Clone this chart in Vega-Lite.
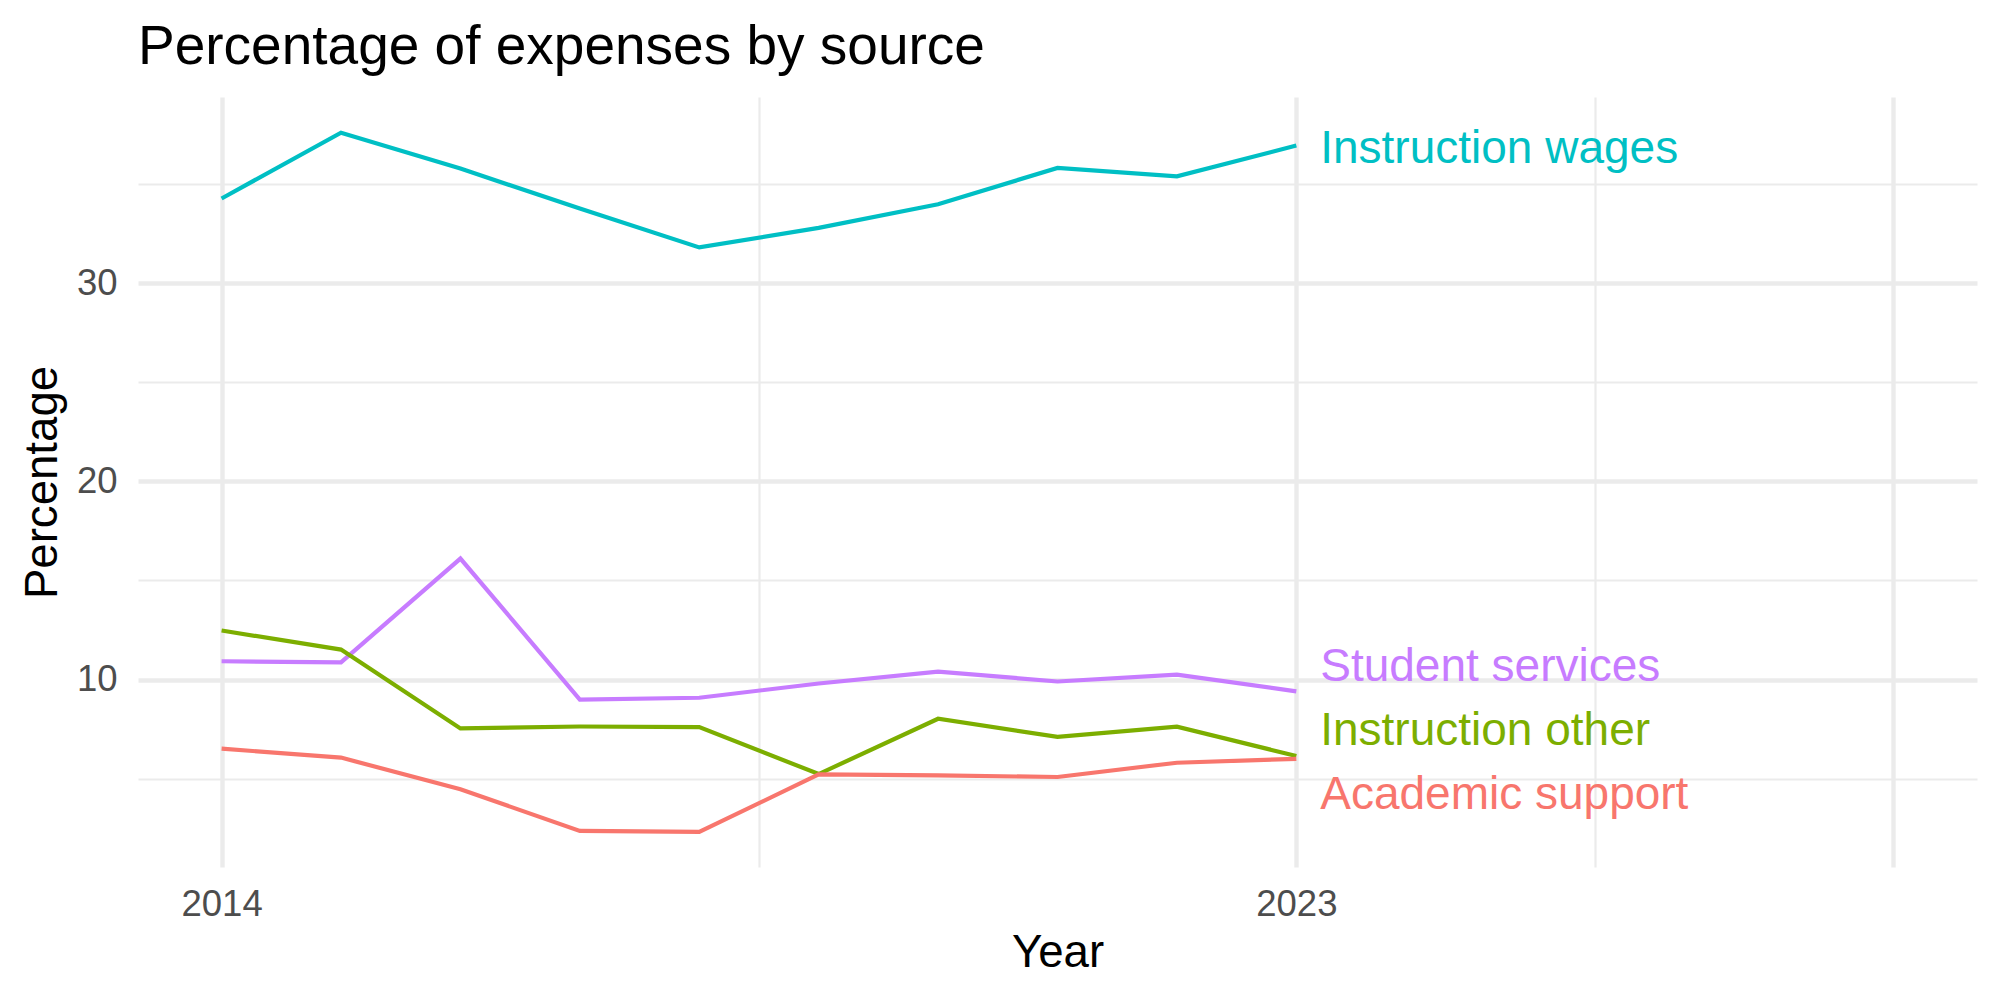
{
  "$schema": "https://vega.github.io/schema/vega-lite/v6.json",
  "width": 1839,
  "height": 770,
  "autosize": {"type": "none"},
  "padding": {"left": 138, "top": 97, "right": 23, "bottom": 133},
  "background": "white",
  "config": {"font": "Liberation Sans", "view": {"stroke": null}},
  "title": {
    "text": "Percentage of expenses by source",
    "anchor": "start",
    "frame": "group",
    "fontSize": 55,
    "fontWeight": "normal",
    "color": "#000000",
    "baseline": "alphabetic",
    "offset": 34,
    "dy": 56,
    "font": "Liberation Sans"
  },
  "datasets": {
    "series": [
      {"year": 2014, "source": "Instruction wages", "percentage": 34.27},
      {"year": 2015, "source": "Instruction wages", "percentage": 37.59},
      {"year": 2016, "source": "Instruction wages", "percentage": 35.78},
      {"year": 2017, "source": "Instruction wages", "percentage": 33.76},
      {"year": 2018, "source": "Instruction wages", "percentage": 31.8},
      {"year": 2019, "source": "Instruction wages", "percentage": 32.79},
      {"year": 2020, "source": "Instruction wages", "percentage": 33.98},
      {"year": 2021, "source": "Instruction wages", "percentage": 35.81},
      {"year": 2022, "source": "Instruction wages", "percentage": 35.39},
      {"year": 2023, "source": "Instruction wages", "percentage": 36.94},
      {"year": 2014, "source": "Student services", "percentage": 10.92},
      {"year": 2015, "source": "Student services", "percentage": 10.86},
      {"year": 2016, "source": "Student services", "percentage": 16.1},
      {"year": 2017, "source": "Student services", "percentage": 8.99},
      {"year": 2018, "source": "Student services", "percentage": 9.08},
      {"year": 2019, "source": "Student services", "percentage": 9.8},
      {"year": 2020, "source": "Student services", "percentage": 10.4},
      {"year": 2021, "source": "Student services", "percentage": 9.9},
      {"year": 2022, "source": "Student services", "percentage": 10.25},
      {"year": 2023, "source": "Student services", "percentage": 9.4},
      {"year": 2014, "source": "Instruction other", "percentage": 12.47},
      {"year": 2015, "source": "Instruction other", "percentage": 11.51},
      {"year": 2016, "source": "Instruction other", "percentage": 7.53},
      {"year": 2017, "source": "Instruction other", "percentage": 7.63},
      {"year": 2018, "source": "Instruction other", "percentage": 7.6},
      {"year": 2019, "source": "Instruction other", "percentage": 5.23},
      {"year": 2020, "source": "Instruction other", "percentage": 8.02},
      {"year": 2021, "source": "Instruction other", "percentage": 7.11},
      {"year": 2022, "source": "Instruction other", "percentage": 7.62},
      {"year": 2023, "source": "Instruction other", "percentage": 6.14},
      {"year": 2014, "source": "Academic support", "percentage": 6.51},
      {"year": 2015, "source": "Academic support", "percentage": 6.06},
      {"year": 2016, "source": "Academic support", "percentage": 4.46},
      {"year": 2017, "source": "Academic support", "percentage": 2.36},
      {"year": 2018, "source": "Academic support", "percentage": 2.31},
      {"year": 2019, "source": "Academic support", "percentage": 5.21},
      {"year": 2020, "source": "Academic support", "percentage": 5.16},
      {"year": 2021, "source": "Academic support", "percentage": 5.08},
      {"year": 2022, "source": "Academic support", "percentage": 5.8},
      {"year": 2023, "source": "Academic support", "percentage": 6.0}
    ],
    "labels": [
      {"year": 2023.2, "source": "Instruction wages", "label_value": 36.77},
      {"year": 2023.2, "source": "Student services", "label_value": 10.63},
      {"year": 2023.2, "source": "Instruction other", "label_value": 7.38},
      {"year": 2023.2, "source": "Academic support", "label_value": 4.18}
    ]
  },
  "layer": [
    {
      "data": {"name": "series"},
      "mark": {"type": "line", "strokeWidth": 4.2},
      "encoding": {
        "x": {
          "field": "year",
          "type": "quantitative",
          "scale": {"domain": [2013.3, 2028.7], "nice": false, "zero": false},
          "axis": {
            "title": "Year",
            "values": [2014, 2018.5, 2023, 2025.5, 2028],
            "format": "d",
            "labelExpr": "datum.value == 2014 || datum.value == 2023 ? datum.label : ''",
            "domain": false,
            "ticks": false,
            "tickSize": 0,
            "labelPadding": 19.5,
            "labelFontSize": 36.5,
            "labelColor": "#4D4D4D",
            "labelFont": "Liberation Sans",
            "labelFlush": false,
            "labelOverlap": false,
            "grid": true,
            "gridColor": "#EBEBEB",
            "gridWidth": {"condition": {"test": "datum.value == 2018.5 || datum.value == 2025.5", "value": 2.2}, "value": 4.4},
            "titleFontSize": 45.6,
            "titleFontWeight": "normal",
            "titleColor": "#000000",
            "titleFont": "Liberation Sans",
            "titleBaseline": "alphabetic",
            "titleY": 99.5
          }
        },
        "y": {
          "field": "percentage",
          "type": "quantitative",
          "scale": {"domain": [0.54, 39.39], "nice": false, "zero": false},
          "axis": {
            "title": "Percentage",
            "values": [5, 10, 15, 20, 25, 30, 35],
            "labelExpr": "datum.value % 10 == 0 ? datum.label : ''",
            "domain": false,
            "ticks": false,
            "tickSize": 0,
            "labelPadding": 21,
            "labelFontSize": 36.5,
            "labelColor": "#4D4D4D",
            "labelFont": "Liberation Sans",
            "labelFlush": false,
            "labelOverlap": false,
            "grid": true,
            "gridColor": "#EBEBEB",
            "gridWidth": {"condition": {"test": "datum.value % 10 != 0", "value": 2.2}, "value": 4.4},
            "titleFontSize": 45.6,
            "titleFontWeight": "normal",
            "titleColor": "#000000",
            "titleFont": "Liberation Sans",
            "titleBaseline": "alphabetic",
            "titleAngle": 270,
            "titleAlign": "center",
            "titleX": -82,
            "titleY": 385
          }
        },
        "color": {
          "field": "source",
          "type": "nominal",
          "scale": {
            "domain": ["Academic support", "Instruction other", "Instruction wages", "Student services"],
            "range": ["#F8766D", "#7CAE00", "#00BFC4", "#C77CFF"]
          },
          "legend": null
        }
      }
    },
    {
      "data": {"name": "labels"},
      "mark": {"type": "text", "align": "left", "baseline": "middle", "fontSize": 46, "font": "Liberation Sans"},
      "encoding": {
        "x": {"field": "year", "type": "quantitative"},
        "y": {"field": "label_value", "type": "quantitative"},
        "text": {"field": "source", "type": "nominal"},
        "color": {"field": "source", "type": "nominal", "legend": null}
      }
    }
  ]
}
